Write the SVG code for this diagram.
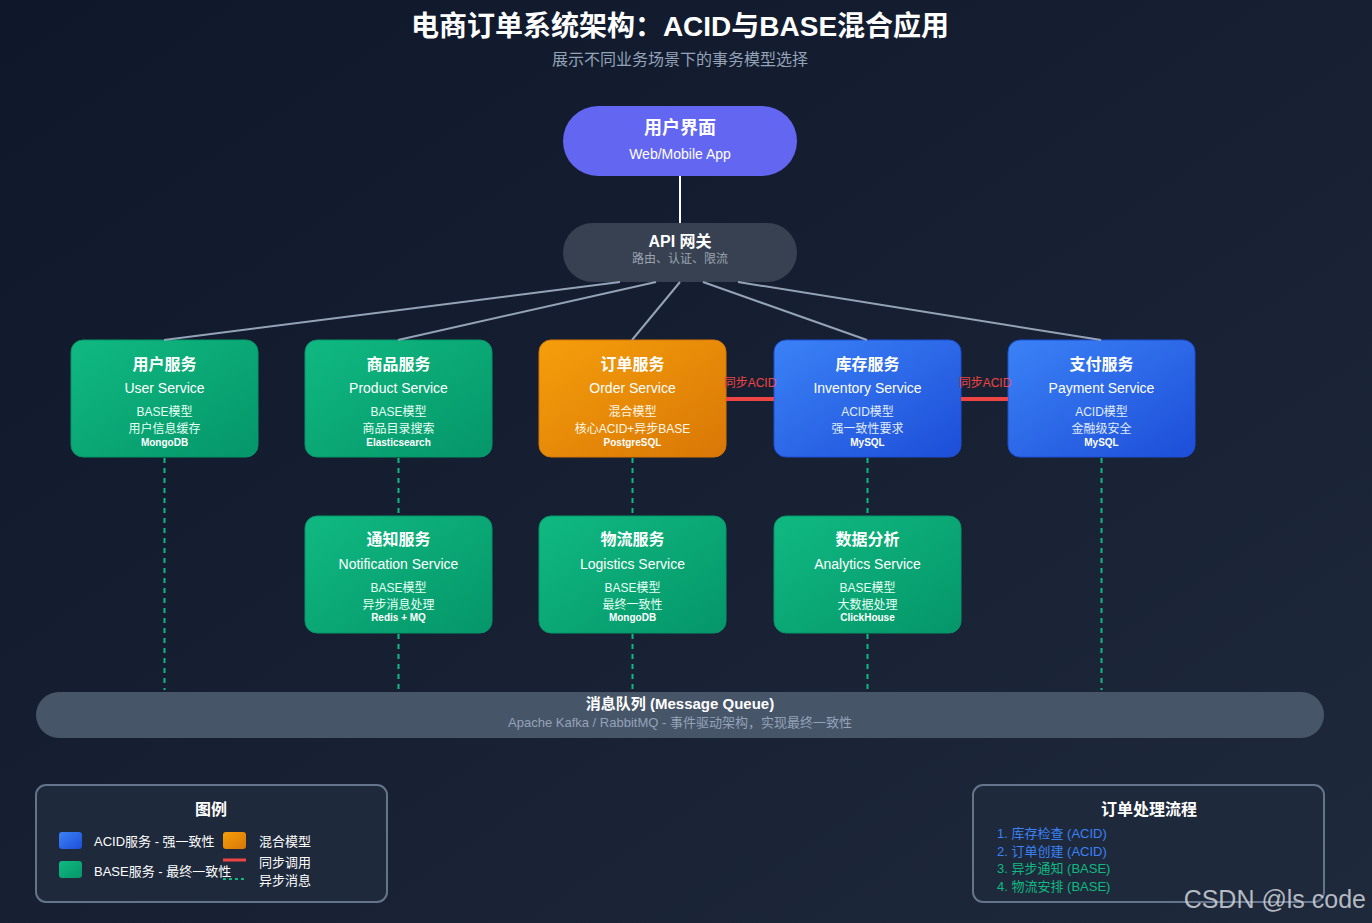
<svg xmlns="http://www.w3.org/2000/svg" width="1372" height="923" viewBox="0 0 1372 923">
<defs>
<linearGradient id="bg" x1="0" y1="0" x2="1" y2="1"><stop offset="0" stop-color="#0f172a"/><stop offset="1" stop-color="#1e293b"/></linearGradient>
<linearGradient id="gGreen" x1="0" y1="0" x2="1" y2="1"><stop offset="0" stop-color="#10b981"/><stop offset="1" stop-color="#059669"/></linearGradient>
<linearGradient id="gBlue" x1="0" y1="0" x2="1" y2="1"><stop offset="0" stop-color="#3b82f6"/><stop offset="1" stop-color="#1d4ed8"/></linearGradient>
<linearGradient id="gOrange" x1="0" y1="0" x2="1" y2="1"><stop offset="0" stop-color="#f59e0b"/><stop offset="1" stop-color="#d97706"/></linearGradient>
<style>
text{font-family:"Liberation Sans","Noto Sans CJK SC",sans-serif;text-anchor:middle;dominant-baseline:central}
.t{font-size:16px;font-weight:bold;fill:#fff}
.s{font-size:14px;fill:#fff}
.m{font-size:12px;fill:#e6fff5}
.d{font-size:10px;fill:#fff;font-weight:bold}
.svc{rx:12}
.green{fill:url(#gGreen);stroke:#059669;stroke-width:1}
.blue{fill:url(#gBlue);stroke:#1d4ed8;stroke-width:1}
.orange{fill:url(#gOrange);stroke:#d97706;stroke-width:1}
.gw{stroke:#94a3b8;stroke-width:2;fill:none}
.async{stroke:#10b981;stroke-width:2;stroke-dasharray:5,5;fill:none}
.sync{stroke:#ef4444;stroke-width:4;fill:none}
.syncl{font-size:12px;fill:#ef4444}
.box{fill:#1e293b;stroke:#64748b;stroke-width:2}
.lg{font-size:13px;fill:#fff;text-anchor:start}
.fl{font-size:13px;text-anchor:start}
</style>
</defs>
<rect width="1372" height="923" fill="url(#bg)"/>
<text x="680" y="26" style="font-size:28px;font-weight:bold;fill:#fff">电商订单系统架构：ACID与BASE混合应用</text>
<text x="680" y="59" style="font-size:16px;fill:#94a3b8">展示不同业务场景下的事务模型选择</text>

<g id="ui">
<rect x="563" y="106" width="234" height="70" rx="35" fill="#6366f1"/>
<text x="680" y="128" style="font-size:18px;font-weight:bold;fill:#fff">用户界面</text>
<text x="680" y="154" style="font-size:14px;fill:#fff">Web/Mobile App</text>
</g>
<g id="gateway">
<rect x="563" y="223" width="234" height="59" rx="29.5" fill="#374151"/>
<text x="680" y="241" style="font-size:16px;font-weight:bold;fill:#fff">API 网关</text>
<text x="680" y="259" style="font-size:12px;fill:#9ca3af">路由、认证、限流</text>
</g>

<g id="user-service">
<rect class="svc green" x="71" y="340" width="187" height="117"/>
<text class="t" x="164.5" y="364">用户服务</text>
<text class="s" x="164.5" y="388">User Service</text>
<text class="m" x="164.5" y="412">BASE模型</text>
<text class="m" x="164.5" y="429">用户信息缓存</text>
<text class="d" x="164.5" y="442">MongoDB</text>
</g>
<g id="product-service">
<rect class="svc green" x="305" y="340" width="187" height="117"/>
<text class="t" x="398.5" y="364">商品服务</text>
<text class="s" x="398.5" y="388">Product Service</text>
<text class="m" x="398.5" y="412">BASE模型</text>
<text class="m" x="398.5" y="429">商品目录搜索</text>
<text class="d" x="398.5" y="442">Elasticsearch</text>
</g>
<g id="order-service">
<rect class="svc orange" x="539" y="340" width="187" height="117"/>
<text class="t" x="632.5" y="364">订单服务</text>
<text class="s" x="632.5" y="388">Order Service</text>
<text class="m" x="632.5" y="412" style="fill:#fff7e6">混合模型</text>
<text class="m" x="632.5" y="429" style="fill:#fff7e6">核心ACID+异步BASE</text>
<text class="d" x="632.5" y="442">PostgreSQL</text>
</g>
<g id="inventory-service">
<rect class="svc blue" x="774" y="340" width="187" height="117"/>
<text class="t" x="867.5" y="364">库存服务</text>
<text class="s" x="867.5" y="388">Inventory Service</text>
<text class="m" x="867.5" y="412" style="fill:#e0ecff">ACID模型</text>
<text class="m" x="867.5" y="429" style="fill:#e0ecff">强一致性要求</text>
<text class="d" x="867.5" y="442">MySQL</text>
</g>
<g id="payment-service">
<rect class="svc blue" x="1008" y="340" width="187" height="117"/>
<text class="t" x="1101.5" y="364">支付服务</text>
<text class="s" x="1101.5" y="388">Payment Service</text>
<text class="m" x="1101.5" y="412" style="fill:#e0ecff">ACID模型</text>
<text class="m" x="1101.5" y="429" style="fill:#e0ecff">金融级安全</text>
<text class="d" x="1101.5" y="442">MySQL</text>
</g>

<g id="notification-service">
<rect class="svc green" x="305" y="516" width="187" height="117"/>
<text class="t" x="398.5" y="539">通知服务</text>
<text class="s" x="398.5" y="564">Notification Service</text>
<text class="m" x="398.5" y="588">BASE模型</text>
<text class="m" x="398.5" y="605">异步消息处理</text>
<text class="d" x="398.5" y="617">Redis + MQ</text>
</g>
<g id="logistics-service">
<rect class="svc green" x="539" y="516" width="187" height="117"/>
<text class="t" x="632.5" y="539">物流服务</text>
<text class="s" x="632.5" y="564">Logistics Service</text>
<text class="m" x="632.5" y="588">BASE模型</text>
<text class="m" x="632.5" y="605">最终一致性</text>
<text class="d" x="632.5" y="617">MongoDB</text>
</g>
<g id="analytics-service">
<rect class="svc green" x="774" y="516" width="187" height="117"/>
<text class="t" x="867.5" y="539">数据分析</text>
<text class="s" x="867.5" y="564">Analytics Service</text>
<text class="m" x="867.5" y="588">BASE模型</text>
<text class="m" x="867.5" y="605">大数据处理</text>
<text class="d" x="867.5" y="617">ClickHouse</text>
</g>

<g id="message-queue">
<rect x="36" y="692" width="1288" height="46" rx="23" fill="#475569"/>
<text x="680" y="703" style="font-size:15px;font-weight:bold;fill:#fff">消息队列 (Message Queue)</text>
<text x="680" y="722" style="font-size:13px;fill:#94a3b8">Apache Kafka / RabbitMQ - 事件驱动架构，实现最终一致性</text>
</g>

<g id="connectors">
<line x1="680" y1="176" x2="680" y2="223" stroke="#fff" stroke-width="2"/>
<line class="gw" x1="620" y1="282" x2="164" y2="340"/>
<line class="gw" x1="656" y1="282" x2="398" y2="340"/>
<line class="gw" x1="680" y1="282" x2="632" y2="340"/>
<line class="gw" x1="703" y1="282" x2="867" y2="340"/>
<line class="gw" x1="738" y1="282" x2="1101" y2="340"/>
<line class="sync" x1="726" y1="399" x2="774" y2="399"/>
<text class="syncl" x="750" y="383">同步ACID</text>
<line class="sync" x1="961" y1="399" x2="1008" y2="399"/>
<text class="syncl" x="985" y="383">同步ACID</text>
<line class="async" x1="164.5" y1="458" x2="164.5" y2="690"/>
<line class="async" x1="398.5" y1="458" x2="398.5" y2="516"/>
<line class="async" x1="632.5" y1="458" x2="632.5" y2="516"/>
<line class="async" x1="867.5" y1="458" x2="867.5" y2="516"/>
<line class="async" x1="1101.5" y1="458" x2="1101.5" y2="690"/>
<line class="async" x1="398.5" y1="634" x2="398.5" y2="690"/>
<line class="async" x1="632.5" y1="634" x2="632.5" y2="690"/>
<line class="async" x1="867.5" y1="634" x2="867.5" y2="690"/>
</g>

<g id="legend">
<rect class="box" x="36" y="785" width="351" height="117" rx="10"/>
<text x="211" y="809" style="font-size:16px;font-weight:bold;fill:#fff">图例</text>
<rect x="59" y="832" width="23" height="17" rx="3" fill="url(#gBlue)"/>
<text class="lg" x="94" y="841">ACID服务 - 强一致性</text>
<rect x="223" y="832" width="23" height="17" rx="3" fill="url(#gOrange)"/>
<text class="lg" x="259" y="841">混合模型</text>
<rect x="59" y="861" width="23" height="17" rx="3" fill="url(#gGreen)"/>
<text class="lg" x="94" y="871">BASE服务 - 最终一致性</text>
<line x1="223" y1="860" x2="246" y2="860" stroke="#ef4444" stroke-width="3"/>
<text class="lg" x="259" y="862">同步调用</text>
<line x1="223" y1="879" x2="246" y2="879" stroke="#10b981" stroke-width="2" stroke-dasharray="3,3"/>
<text class="lg" x="259" y="880">异步消息</text>
</g>

<g id="order-flow">
<rect class="box" x="973" y="785" width="351" height="117" rx="10"/>
<text x="1149" y="809" style="font-size:16px;font-weight:bold;fill:#fff">订单处理流程</text>
<text class="fl" x="997" y="833" fill="#3b82f6">1. 库存检查 (ACID)</text>
<text class="fl" x="997" y="851" fill="#3b82f6">2. 订单创建 (ACID)</text>
<text class="fl" x="997" y="868" fill="#10b981">3. 异步通知 (BASE)</text>
<text class="fl" x="997" y="886" fill="#10b981">4. 物流安排 (BASE)</text>
</g>

<text x="1366" y="899" style="font-size:25px;fill:#d1d5db;fill-opacity:0.85;text-anchor:end">CSDN @ls code</text>
</svg>
